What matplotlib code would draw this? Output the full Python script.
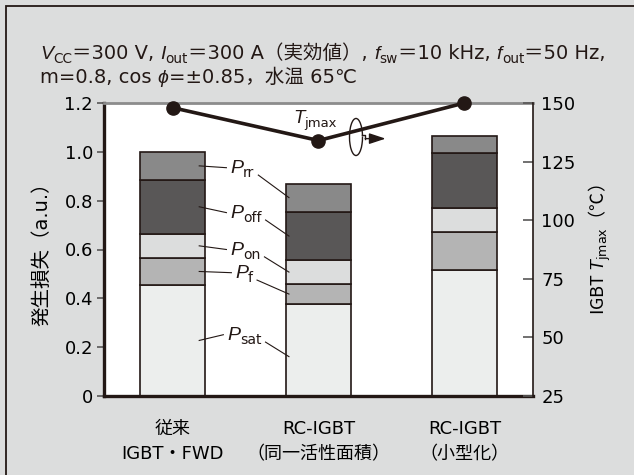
import numpy as np
import matplotlib
matplotlib.use('Agg')
import matplotlib.pyplot as plt
from matplotlib.patches import Rectangle, Arc
from matplotlib.transforms import offset_copy

# loss breakdown per device (a.u.), stacked bottom -> top
categories = ['従来\nIGBT・FWD', 'RC-IGBT\n（同一活性面積）', 'RC-IGBT\n（小型化）']
p_sat = [0.455, 0.375, 0.515]
p_f = [0.110, 0.085, 0.155]
p_on = [0.100, 0.095, 0.100]
p_off = [0.220, 0.200, 0.225]
p_rr = [0.115, 0.115, 0.070]
tj_max = [148, 134, 150]

loss_names = ['sat', 'f', 'on', 'off', 'rr']
loss_vals = [p_sat, p_f, p_on, p_off, p_rr]
loss_cols = ['#eceeed', '#b4b4b4', '#dcdddd', '#595757', '#898989']

INK = '#231815'
BG = '#dcdddd'
MAIN = ['DejaVu Sans', 'Noto Sans CJK JP']
ITAL = ['Liberation Sans', 'DejaVu Sans']
DPI = 100

plt.rcParams['font.family'] = MAIN
plt.rcParams['text.color'] = INK
plt.rcParams['mathtext.fontset'] = 'custom'
plt.rcParams['mathtext.rm'] = 'DejaVu Sans'
plt.rcParams['mathtext.it'] = 'Liberation Sans:italic'

fig = plt.figure(figsize=(6.34, 4.75), dpi=DPI, facecolor=BG)
fig.patches.append(Rectangle((6 / 634, -0.1), 1.2, 1.1 - 6 / 475, transform=fig.transFigure,
                             fill=False, edgecolor=INK, linewidth=1.3))


def rich_text(x, y, pieces, size, transform, sub=0.7):
    """draw text pieces side by side: 'n' normal, 'i' italic, 's' subscript"""
    r = fig.canvas.get_renderer()
    pos = 0.0
    for s, kind in pieces:
        fs = size * sub if kind == 's' else size
        drop = -size * 0.22 * DPI / 72 if kind == 's' else 0.0
        t = fig.text(x, y, s, fontsize=fs, family=ITAL if kind == 'i' else MAIN,
                     style='italic' if kind == 'i' else 'normal', color=INK,
                     ha='left', va='baseline',
                     transform=offset_copy(transform, fig=fig, x=pos, y=drop, units='dots'))
        pos += t.get_window_extent(r).width
    x0, y0 = transform.transform((x, y))
    return x0 + pos, y0


ax = fig.add_axes([104 / 634, 1 - 396 / 475, 429 / 634, 293 / 475])
ax.set_facecolor('white')
xpos = np.arange(len(categories))
bw = 0.445
bottom = np.zeros(len(categories))
for vals, col in zip(loss_vals, loss_cols):
    ax.bar(xpos, vals, bw, bottom=bottom, color=col, edgecolor=INK, linewidth=1.2, zorder=2)
    bottom += np.array(vals)

ax.set_xlim(-0.47, 2.47)
ax.set_ylim(0, 1.2)
ax.set_xticks(xpos)
ax.set_xticklabels(categories, fontsize=13, linespacing=1.55)
ax.tick_params(axis='x', length=0, pad=17)
ax.set_yticks([0, 0.2, 0.4, 0.6, 0.8, 1.0, 1.2])
ax.set_yticklabels(['0', '0.2', '0.4', '0.6', '0.8', '1.0', '1.2'])
ax.tick_params(axis='y', direction='out', length=5, width=1.2, color='#595757',
               labelsize=13, pad=3)
ax.spines['left'].set_linewidth(2.4)
ax.spines['left'].set_color(INK)
ax.spines['bottom'].set_linewidth(2.4)
ax.spines['bottom'].set_color(INK)
ax.spines['top'].set_linewidth(2)
ax.spines['top'].set_color('#8c8c8c')
ax.spines['right'].set_visible(False)
ax.set_ylabel('発生損失（a.u.）', fontsize=14, labelpad=9)

ax2 = ax.twinx()
ax2.set_ylim(25, 150)
ax2.set_yticks([25, 50, 75, 100, 125, 150])
ax2.tick_params(axis='y', direction='in', length=7, width=1.2, color='#595757',
                labelsize=13, pad=6)
for side in ['left', 'bottom', 'top']:
    ax2.spines[side].set_visible(False)
ax2.spines['right'].set_linewidth(1.2)
ax2.spines['right'].set_color(INK)
ax2.set_ylabel('IGBT $T_{\\mathrm{jmax}}$（℃）', fontsize=13, family='Noto Sans CJK JP',
               labelpad=8)
ax2.plot(xpos, tj_max, color=INK, lw=2.6, marker='o', ms=9.5, clip_on=False, zorder=5)

# Tjmax label with curl arrow pointing to the right axis
rich_text(0.825, 141.5, [('T', 'i'), ('jmax', 's')], 13.5, ax2.transData)
ax2.add_patch(Arc((1.257, 135.5), 0.089, 15.8, theta1=75, theta2=365, color=INK,
                  lw=1.0, clip_on=False, zorder=6))
ax2.plot([1.301, 1.32, 1.32], [136.3, 136.3, 134.8], color=INK, lw=1.0, clip_on=False, zorder=6)
ax2.annotate('', xy=(1.46, 134.8), xytext=(1.32, 134.8),
             arrowprops=dict(arrowstyle='-|>,head_length=1.0,head_width=0.33',
                             color=INK, lw=1.0, shrinkA=0, shrinkB=0))

# component labels with leader lines into bar 1 and bar 2
fig.canvas.draw()
label_x = [0.373, 0.428, 0.394, 0.394, 0.394]
label_y = [0.229, 0.483, 0.578, 0.729, 0.913]
cum = np.cumsum(np.array(loss_vals), axis=0)
inv = ax.transData.inverted()
for k, name in enumerate(loss_names):
    mid1 = cum[k][0] - loss_vals[k][0] / 2
    mid2 = cum[k][1] - loss_vals[k][1] / 2
    if name == 'sat':
        mid2 = cum[k][1] * 0.43
    ax.plot([bw / 2 - 0.04, label_x[k] - 0.025], [mid1, label_y[k] + 0.022],
            color=INK, lw=0.8, zorder=4, clip_on=False)
    end = rich_text(label_x[k], label_y[k], [('P', 'i'), (name, 's')], 14, ax.transData,
                    sub=0.72)
    ex, ey = inv.transform((end[0] + 4, end[1] - 2))
    ax.plot([ex, 1 - bw / 2 + 0.02], [ey, mid2], color=INK, lw=0.8, zorder=4, clip_on=False)

# operating conditions
rich_text(40 / 634, 1 - 59 / 475,
          [('V', 'i'), ('CC', 's'), ('＝300 V, ', 'n'), ('I', 'i'), ('out', 's'),
           ('＝300 A（実効値）, ', 'n'), ('f', 'i'), ('sw', 's'), ('＝10 kHz, ', 'n'),
           ('f', 'i'), ('out', 's'), ('＝50 Hz,', 'n')], 14, fig.transFigure)
rich_text(40 / 634, 1 - 83 / 475,
          [('m=0.8, cos ', 'n'), ('ϕ', 'i'), ('=±0.85，水温 65℃', 'n')], 14, fig.transFigure)

fig.savefig('out.png', dpi=DPI, facecolor=BG)
